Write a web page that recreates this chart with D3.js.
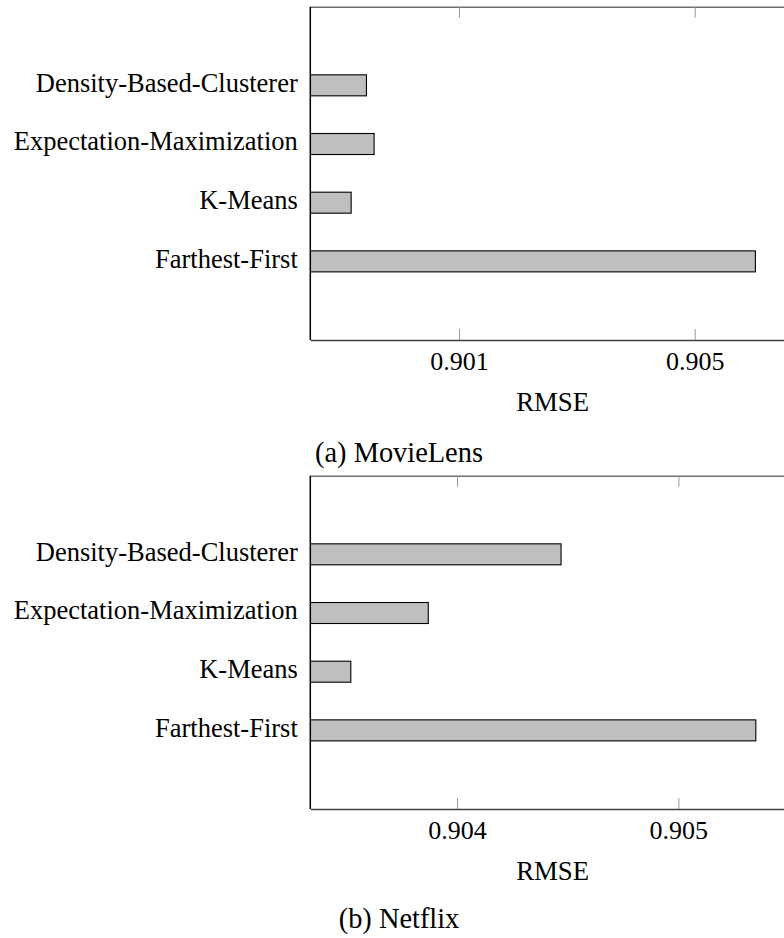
<!DOCTYPE html>
<html>
<head>
<meta charset="utf-8">
<script src="https://cdn.jsdelivr.net/npm/d3@7"></script>
<style>
  html, body { margin: 0; padding: 0; background: #fff; }
  svg text { font-family: "Liberation Serif", "Times New Roman", serif; fill: #000; }
</style>
</head>
<body>
<svg id="chart" width="784" height="938"></svg>
<script>
// Clustering methods, bottom to top
const categories = ["Farthest-First", "K-Means", "Expectation-Maximization", "Density-Based-Clusterer"];

// RMSE per method
const movielensRmse = [0.90603, 0.89917, 0.89956, 0.89943];
const netflixRmse   = [0.90535, 0.90352, 0.90387, 0.90447];

// Axis ticks
const movielensTicks = [0.901, 0.905];
const netflixTicks   = [0.904, 0.905];

// Visible RMSE window of each axis
const movielensDomain = [0.898477, 0.906702];
const netflixDomain   = [0.903337, 0.905527];

const captions = ["(a) MovieLens", "(b) Netflix"];
const axisTitle = "RMSE";

const panels = [
  { values: movielensRmse, ticks: movielensTicks, domain: movielensDomain, caption: captions[0], top: 6.7 },
  { values: netflixRmse,   ticks: netflixTicks,   domain: netflixDomain,   caption: captions[1], top: 475.7 }
];

const svg = d3.select("#chart");
const fontSize = 26.5;
const captionSize = 28.4;
const plotLeft = 310.3, plotRight = 795, plotH = 333.3;
const barH = 21;

panels.forEach((p, i) => {
  const top = p.top, bottom = top + plotH;
  const x = d3.scaleLinear().domain(p.domain).range([plotLeft, plotRight]);
  const y = d3.scalePoint().domain(categories).range([bottom, top]).padding(1.34);

  const g = svg.append("g");

  const clipId = "clip" + i;
  svg.append("clipPath").attr("id", clipId)
    .append("rect").attr("x", plotLeft).attr("y", top).attr("width", plotRight - plotLeft).attr("height", plotH);

  // bars start at the left edge of the visible window
  g.append("g").attr("clip-path", `url(#${clipId})`)
    .selectAll("rect").data(categories).join("rect")
    .attr("x", x(p.domain[0]) - 2)
    .attr("y", d => y(d) - barH / 2)
    .attr("width", (d, k) => x(p.values[k]) - x(p.domain[0]) + 2)
    .attr("height", barH)
    .attr("fill", "#bfbfbf")
    .attr("stroke", "#000")
    .attr("stroke-width", 1.1);

  // top axis: ticks only
  const topAxis = g.append("g").attr("transform", `translate(0,${top})`)
    .call(d3.axisTop(x).tickValues(p.ticks).tickSizeInner(-11).tickSizeOuter(0).tickFormat(""));
  topAxis.select(".domain").attr("stroke", "#707070").attr("stroke-width", 1.4);
  topAxis.selectAll(".tick line").attr("stroke", "#9a9a9a").attr("stroke-width", 1);

  // bottom axis with labels
  const botAxis = g.append("g").attr("transform", `translate(0,${bottom})`)
    .call(d3.axisBottom(x).tickValues(p.ticks).tickSizeInner(-11).tickSizeOuter(0)
      .tickPadding(11.7).tickFormat(d3.format(".3f")));
  botAxis.select(".domain").attr("stroke", "#404040").attr("stroke-width", 1.4);
  botAxis.selectAll(".tick line").attr("stroke", "#9a9a9a").attr("stroke-width", 1);
  botAxis.selectAll(".tick text")
    .attr("font-family", "Liberation Serif").attr("font-size", 26).attr("fill", "#000");

  // left axis line
  g.append("line")
    .attr("x1", plotLeft).attr("x2", plotLeft).attr("y1", top).attr("y2", bottom)
    .attr("stroke", "#000").attr("stroke-width", 1.5);

  // category labels
  g.selectAll("text.cat").data(categories).join("text")
    .attr("class", "cat")
    .attr("x", plotLeft - 12.5)
    .attr("y", d => y(d) + 6.3)
    .attr("text-anchor", "end")
    .attr("font-size", fontSize)
    .text(d => d);

  // axis title
  g.append("text")
    .attr("x", (plotLeft + plotRight) / 2)
    .attr("y", bottom + 70.6)
    .attr("text-anchor", "middle")
    .attr("font-size", 26.8)
    .text(axisTitle);

  // caption
  g.append("text")
    .attr("x", 399)
    .attr("y", bottom + (i === 0 ? 121.5 : 119.2))
    .attr("text-anchor", "middle")
    .attr("font-size", captionSize)
    .text(p.caption);
});
</script>
</body>
</html>
